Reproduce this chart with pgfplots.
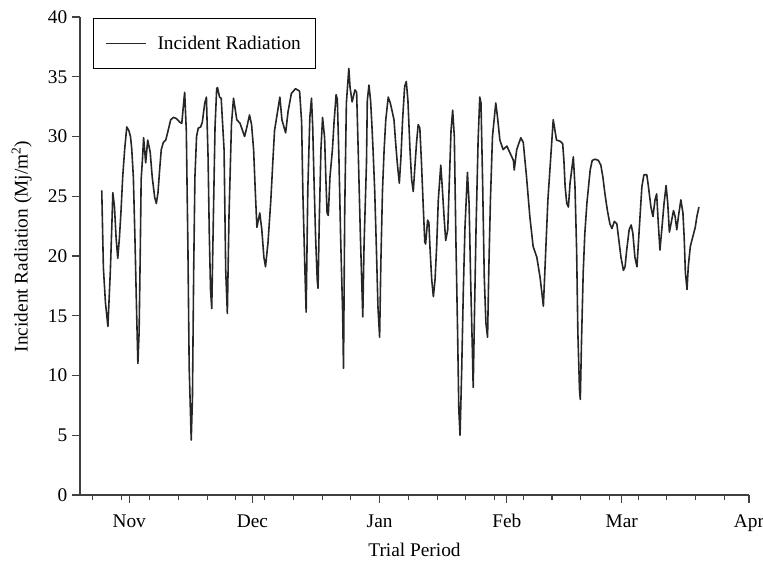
\documentclass[border=0pt]{standalone}
\usepackage{fontspec}
\setmainfont{Liberation Serif}
\usepackage{pgfplots}
\pgfplotsset{compat=1.18}

\begin{document}
\begin{tikzpicture}
\path[use as bounding box] (-60pt,-52.5pt) rectangle (512.25pt,371.25pt);
\begin{axis}[
  scale only axis,
  width=501.75pt, height=358.5pt,
  xmin=-12, xmax=151, ymin=0, ymax=40,
  axis x line*=bottom, axis y line*=left,
  axis line style={black!75, line width=0.8pt},
  tick align=outside,
  tick style={black!75, line width=0.8pt},
  major tick length=6pt, minor tick length=3.5pt,
  xtick={0,30,61,92,120,151},
  xticklabels={Nov,Dec,Jan,Feb,Mar,Apr},
  minor xtick={-9,-2,5,12,19,26,33,40,47,54,68,75,82,89,96,103,110,117,124,131,138,145},
  ytick={0,5,...,40},
  /pgf/number format/assume math mode=true,
  ticklabel style={font=\fontsize{14.5}{16}\selectfont},
  xticklabel style={yshift=-5pt},
  xlabel={Trial Period},
  ylabel={Incident Radiation (Mj/m\textsuperscript{2})},
  label style={font=\fontsize{14.5}{17}\selectfont},
  x label style={at={(axis description cs:0.5,-0.115)}, anchor=center},
  y label style={at={(axis description cs:-0.087,0.52)}, anchor=center},
  legend style={at={(rel axis cs:0.019,0.998)}, anchor=north west, draw=black, line width=0.8pt,
    inner xsep=9pt, inner ysep=11pt, font=\fontsize{14.5}{17}\selectfont},
  legend cell align=left,
  legend image code/.code={\draw[#1] (0pt,0pt) -- (30pt,0pt); \path (36pt,0pt);},
]
\addplot[black!85, line width=1.2pt, line join=round] coordinates {
(-6.7,25.5) (-6.3,19.0) (-5.8,16.1) (-5.2,14.1) (-4.6,18.8) (-4.2,23.0) (-4.0,25.3) (-3.6,24.1)
(-3.2,21.5) (-2.8,19.8) (-2.4,21.5) (-2.0,23.8) (-1.6,26.6) (-1.1,29.0) (-0.6,30.8) (-0.1,30.5)
(0.3,30.0) (0.6,29.0) (1.0,26.6) (1.4,21.3) (1.8,15.2) (2.1,11.0) (2.4,13.6) (2.7,20.8)
(2.9,26.4) (3.2,28.0) (3.5,29.9) (4.0,27.8) (4.5,29.7) (5.1,28.7) (5.6,26.6) (6.2,24.9)
(6.6,24.4) (7.0,25.3) (7.4,27.2) (7.8,28.9) (8.3,29.5) (8.9,29.7) (9.4,30.4) (10.1,31.4)
(10.8,31.6) (11.5,31.5) (12.3,31.2) (12.8,31.1) (13.3,33.0) (13.5,33.7) (13.9,30.5) (14.3,20.5)
(14.6,10.7) (15.1,4.6) (15.4,8.2) (15.7,18.8) (16.0,26.6) (16.4,30.0) (16.8,30.7) (17.4,30.8)
(17.8,31.2) (18.4,32.8) (18.8,33.3) (19.2,28.3) (19.5,21.9) (19.8,17.2) (20.1,15.6) (20.5,23.3)
(20.9,30.8) (21.3,34.0) (21.5,34.1) (22.0,33.3) (22.4,33.2) (23.1,28.9) (23.5,18.8) (23.9,15.2)
(24.3,23.3) (24.9,31.0) (25.4,33.2) (25.9,32.1) (26.2,31.4) (27.0,31.1) (27.6,30.5) (28.1,30.0)
(28.6,30.7) (29.3,31.8) (29.8,31.0) (30.3,28.9) (30.7,25.5) (31.1,22.4) (31.8,23.6) (32.3,22.2)
(32.8,19.9) (33.2,19.1) (33.8,21.1) (34.5,24.7) (35.0,28.0) (35.4,30.5) (36.7,33.3) (37.2,31.4)
(38.1,30.3) (38.7,32.1) (39.5,33.6) (40.5,34.0) (41.5,33.8) (42.0,31.2) (42.3,25.3) (42.8,18.8)
(43.1,15.3) (43.5,25.5) (44.0,31.6) (44.4,33.2) (44.7,30.8) (45.0,26.6) (45.4,21.6) (45.8,18.0)
(46.0,17.3) (46.3,23.0) (46.7,28.9) (47.1,31.6) (47.6,29.9) (47.9,26.5) (48.2,23.6) (48.5,23.4)
(48.9,26.6) (49.5,28.9) (49.9,31.2) (50.4,33.5) (50.7,33.1) (51.1,28.0) (51.5,21.6) (52.0,15.1)
(52.2,10.6) (52.5,23.8) (52.9,32.8) (53.5,35.7) (53.8,34.1) (54.3,32.9) (55.0,33.9) (55.4,33.7)
(55.8,28.6) (56.3,21.9) (56.9,14.9) (57.2,20.8) (57.8,27.8) (58.0,33.0) (58.4,34.3) (58.8,33.0)
(59.1,31.1) (59.4,28.9) (59.8,25.5) (60.2,20.8) (60.6,15.7) (61.0,13.2) (61.3,19.4) (61.7,25.5)
(62.1,28.9) (62.5,31.4) (63.1,33.3) (63.6,32.8) (64.0,32.2) (64.5,31.4) (64.9,29.5) (65.3,27.8)
(65.8,26.1) (66.2,28.3) (66.6,31.4) (67.1,34.2) (67.5,34.6) (67.9,33.0) (68.4,28.9) (68.8,26.4)
(69.2,25.4) (69.6,27.5) (70.0,29.5) (70.4,31.0) (70.8,30.7) (71.2,27.8) (71.6,24.4) (72.0,21.2)
(72.2,21.0) (72.7,23.0) (73.0,22.8) (73.3,20.5) (73.7,18.0) (74.1,16.6) (74.5,18.0) (74.9,20.8)
(75.3,24.7) (75.9,27.6) (76.2,26.1) (76.7,23.3) (77.1,21.3) (77.6,22.2) (78.0,26.4) (78.4,30.5)
(78.8,32.2) (79.2,30.0) (79.6,21.1) (80.0,13.6) (80.3,7.1) (80.6,5.0) (81.0,10.5) (81.4,17.2)
(81.8,22.4) (82.4,27.0) (82.8,24.4) (83.2,17.7) (83.6,12.1) (83.8,9.0) (84.1,14.9) (84.5,22.4)
(85.0,29.7) (85.4,33.3) (85.7,32.8) (86.1,26.1) (86.5,18.2) (86.9,14.4) (87.3,13.2) (87.6,18.8)
(88.0,24.7) (88.5,30.0) (89.3,32.8) (89.7,31.7) (90.3,29.7) (91.1,28.9) (92.0,29.2) (93.6,28.0)
(93.8,27.2) (94.4,28.9) (95.4,29.9) (96.0,29.5) (96.8,26.6) (97.6,23.3) (98.4,20.8) (99.3,19.9)
(100.1,18.2) (100.9,15.8) (102.0,24.7) (103.3,31.4) (104.1,29.7) (105.0,29.6) (105.6,29.4) (105.9,28.0)
(106.2,25.8) (106.6,24.4) (107.0,24.1) (107.4,26.1) (107.8,27.2) (108.2,28.3) (108.6,25.8) (109.0,20.5)
(109.3,13.6) (109.7,8.8) (109.9,8.0) (110.2,13.0) (110.6,18.6) (111.0,21.9) (111.5,24.4) (111.9,25.8)
(112.3,27.2) (112.8,28.0) (113.5,28.1) (114.3,28.0) (114.9,27.6) (115.4,26.6) (115.9,25.2) (116.5,23.8)
(117.1,22.7) (117.6,22.3) (118.2,22.9) (118.8,22.7) (119.3,21.3) (119.8,19.9) (120.4,18.8) (120.8,19.1)
(121.2,20.5) (121.8,22.2) (122.3,22.6) (122.7,21.9) (123.2,19.9) (123.7,19.1) (124.0,20.8) (124.5,23.6)
(124.9,25.8) (125.4,26.8) (126.1,26.8) (126.5,25.8) (127.1,24.1) (127.6,23.3) (128.1,24.7) (128.5,25.2)
(128.9,22.7) (129.3,20.5) (129.8,22.4) (130.3,24.4) (130.8,25.9) (131.2,24.4) (131.6,22.0) (132.0,22.7)
(132.6,23.8) (133.0,23.3) (133.4,22.2) (133.8,23.3) (134.4,24.7) (134.9,23.6) (135.2,21.6) (135.5,18.6)
(135.9,17.2) (136.2,19.1) (136.7,20.8) (137.3,21.6) (137.9,22.4) (138.3,23.3) (138.8,24.1)
};
\addlegendentry{Incident Radiation}
\end{axis}
\end{tikzpicture}
\end{document}
